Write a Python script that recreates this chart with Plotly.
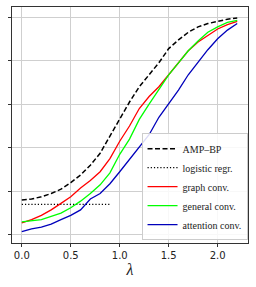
import plotly.graph_objects as go

lam = [0.0, 0.1, 0.2, 0.3, 0.4, 0.5, 0.6, 0.7, 0.8, 0.9, 1.0, 1.1, 1.2, 1.3, 1.4, 1.5, 1.6, 1.7, 1.8, 1.9, 2.0, 2.1, 2.2]
amp_bp = [0.16, 0.165, 0.175, 0.19, 0.21, 0.24, 0.275, 0.32, 0.375, 0.455, 0.53, 0.61, 0.68, 0.735, 0.79, 0.855, 0.895, 0.93, 0.955, 0.97, 0.98, 0.99, 0.995]
logreg_x = [0.0, 0.9]
logreg_y = [0.14, 0.14]
graph_conv = [0.055, 0.07, 0.09, 0.115, 0.145, 0.175, 0.215, 0.25, 0.29, 0.35, 0.43, 0.5, 0.58, 0.635, 0.68, 0.735, 0.79, 0.845, 0.885, 0.915, 0.945, 0.965, 0.98]
general_conv = [0.06, 0.065, 0.07, 0.085, 0.10, 0.125, 0.155, 0.19, 0.23, 0.285, 0.37, 0.44, 0.53, 0.6, 0.665, 0.735, 0.79, 0.845, 0.89, 0.93, 0.955, 0.975, 0.985]
attention_conv = [0.015, 0.028, 0.036, 0.05, 0.07, 0.09, 0.115, 0.165, 0.19, 0.235, 0.29, 0.345, 0.4, 0.46, 0.54, 0.6, 0.665, 0.735, 0.795, 0.85, 0.9, 0.94, 0.97]

x_ticks = [0.0, 0.5, 1.0, 1.5, 2.0]
x_ticklabels = ["0.0", "0.5", "1.0", "1.5", "2.0"]
y_ticks = [0.0, 0.2, 0.4, 0.6, 0.8, 1.0]

fig = go.Figure()
fig.add_trace(go.Scatter(x=lam, y=amp_bp, mode="lines", name="AMP\u2013BP",
                         line=dict(color="black", width=1.5, dash="5px,2.5px")))
fig.add_trace(go.Scatter(x=logreg_x, y=logreg_y, mode="lines", name="logistic regr.",
                         line=dict(color="black", width=1.2, dash="1.2px,2px")))
fig.add_trace(go.Scatter(x=lam, y=graph_conv, mode="lines", name="graph conv.",
                         line=dict(color="#ff0000", width=1.3)))
fig.add_trace(go.Scatter(x=lam, y=general_conv, mode="lines", name="general conv.",
                         line=dict(color="#00ff00", width=1.3)))
fig.add_trace(go.Scatter(x=lam, y=attention_conv, mode="lines", name="attention conv.",
                         line=dict(color="#0000bb", width=1.3)))

fig.update_layout(
    width=256, height=287,
    margin=dict(l=12, r=8, t=7, b=44, autoexpand=False),
    plot_bgcolor="white", paper_bgcolor="white",
    showlegend=True,
    legend=dict(x=0.998, y=0.012, xanchor="right", yanchor="bottom",
                bgcolor="rgba(255,255,255,0.85)", bordercolor="#cccccc", borderwidth=1,
                font=dict(family="Liberation Serif", size=10, color="#222"),
                itemwidth=30, tracegroupgap=0),
    xaxis=dict(range=[-0.1, 2.31], tickvals=x_ticks, ticktext=x_ticklabels,
               showgrid=True, gridcolor="#cfcfcf", gridwidth=1, automargin=False,
               ticks="outside", ticklen=3, tickcolor="#333",
               showline=True, linecolor="#333", linewidth=1, mirror=True,
               tickfont=dict(family="DejaVu Sans", size=10, color="#222"),
               title=dict(text="<i>λ</i>", font=dict(family="Liberation Serif", size=16, color="#222"),
                          standoff=2),
               zeroline=False),
    yaxis=dict(range=[-0.037, 1.046], tickvals=y_ticks, showticklabels=False,
               showgrid=True, gridcolor="#cfcfcf", gridwidth=1, automargin=False,
               ticks="outside", ticklen=3, tickcolor="#333",
               showline=True, linecolor="#333", linewidth=1, mirror=True,
               zeroline=False),
)

fig.write_html("out.html", config={"displayModeBar": False},
               post_script="document.body.style.margin='0';")
